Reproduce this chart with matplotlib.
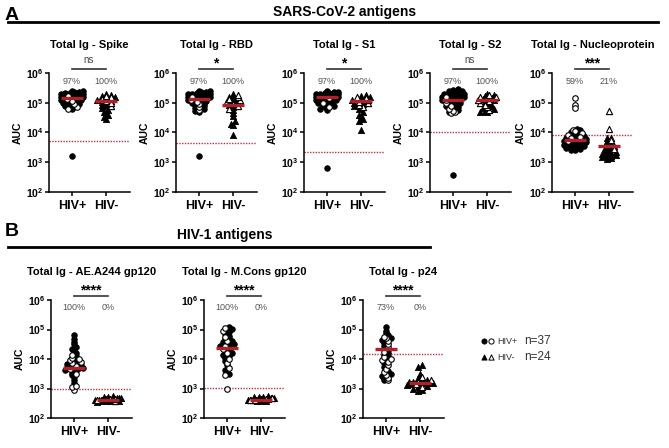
import numpy as np
import matplotlib.pyplot as plt

plt.rcParams['font.family'] = ['Liberation Sans', 'DejaVu Sans']
plt.rcParams['mathtext.fontset'] = 'custom'
plt.rcParams['mathtext.rm'] = 'Liberation Sans'
plt.rcParams['mathtext.bf'] = 'Liberation Sans:bold'

# ---- data (log10 AUC) ----
spike_pos_solid = [3.20, 4.78, 4.84, 4.90, 4.93, 4.97, 5.00, 5.03, 5.06, 5.08, 5.10, 5.12, 5.14, 5.15, 5.16, 5.17,
                   5.18, 5.19, 5.20, 5.22, 5.24, 5.25, 5.27, 5.28, 5.30, 5.32, 5.33, 5.35, 5.36, 5.38, 5.40]
spike_pos_open = [4.80, 4.86, 4.95, 5.05, 5.12, 5.22]
spike_neg_solid = [4.46, 4.52, 4.58, 4.64, 4.70, 4.76, 4.82, 4.88, 4.93, 4.98, 5.02, 5.06, 5.10, 5.14, 5.19, 5.23,
                   5.27, 5.31]
spike_neg_open = [4.88, 4.98, 5.05, 5.12, 5.18, 5.24]

rbd_pos_solid = [3.20, 4.68, 4.72, 4.78, 4.82, 4.88, 4.92, 4.97, 5.00, 5.04, 5.07, 5.10, 5.12, 5.14, 5.15, 5.16,
                 5.18, 5.19, 5.20, 5.22, 5.23, 5.25, 5.26, 5.28, 5.30, 5.31, 5.33, 5.35, 5.36, 5.38, 5.40]
rbd_pos_open = [4.75, 4.85, 4.95, 5.02, 5.10, 5.20]
rbd_neg_solid = [3.92, 4.25, 4.30, 4.38, 4.55, 4.65, 4.75, 4.85, 4.92, 4.98, 5.03, 5.08, 5.13, 5.20, 5.24, 5.30]
rbd_neg_open = [4.80, 4.88, 4.95, 5.00, 5.08, 5.12, 5.18, 5.25]

s1_pos_solid = [2.82, 4.75, 4.80, 4.85, 4.88, 4.92, 4.95, 4.98, 5.00, 5.03, 5.05, 5.08, 5.10, 5.12, 5.14, 5.16,
                5.18, 5.20, 5.21, 5.22, 5.23, 5.24, 5.25, 5.26, 5.27, 5.28, 5.29, 5.30, 5.31, 5.32, 5.33, 5.35,
                5.37, 5.40]
s1_pos_open = [4.85, 5.00, 5.15]
s1_neg_solid = [4.07, 4.40, 4.45, 4.52, 4.60, 4.68, 4.80, 4.90, 4.95, 5.00, 5.05, 5.10, 5.15, 5.18, 5.22, 5.26]
s1_neg_open = [4.85, 4.92, 4.98, 5.02, 5.08, 5.12, 5.16, 5.20]

s2_pos_solid = [2.57, 4.70, 4.75, 4.82, 4.86, 4.90, 4.94, 4.98, 5.02, 5.05, 5.08, 5.10, 5.12, 5.14, 5.16, 5.18,
                5.20, 5.22, 5.24, 5.26, 5.28, 5.30, 5.32, 5.34, 5.36, 5.38, 5.40, 5.43, 5.45]
s2_pos_open = [4.65, 4.68, 4.72, 4.80, 4.90, 5.00, 5.10, 5.20]
s2_neg_solid = [4.68, 4.70, 4.72, 4.78, 4.82, 4.88, 4.95, 5.02, 5.08, 5.12, 5.17, 5.22, 5.27, 5.30]
s2_neg_open = [4.75, 4.85, 4.92, 5.00, 5.05, 5.10, 5.15, 5.18, 5.20, 5.25]

np_pos_solid = [3.40, 3.42, 3.45, 3.48, 3.50, 3.52, 3.54, 3.56, 3.58, 3.60, 3.62, 3.64, 3.66, 3.68, 3.70, 3.72,
                3.74, 3.76, 3.78, 3.80, 3.83, 3.87, 3.92, 3.96, 4.02, 4.08, 4.12]
np_pos_open = [5.15, 4.92, 4.83, 4.10, 4.05, 3.98, 3.90, 3.85, 3.80, 3.70]
np_neg_solid = [3.10, 3.15, 3.18, 3.20, 3.22, 3.25, 3.28, 3.30, 3.32, 3.35, 3.38, 3.42, 3.48, 3.52, 3.55, 3.58,
                3.62, 3.70, 3.82]
np_neg_open = [4.72, 4.12, 3.82, 3.75, 3.45]

a244_pos_solid = [3.20, 3.30, 3.38, 3.45, 3.52, 3.58, 3.62, 3.66, 3.68, 3.70, 3.72, 3.74, 3.78, 3.82, 3.88, 3.98,
                  4.10, 4.20, 4.28, 4.35, 4.42, 4.50, 4.58, 4.68, 4.80]
a244_pos_open = [2.95, 3.05, 3.10, 3.50, 3.65, 3.75, 3.85, 3.90, 3.95, 4.00, 4.05, 4.15]
a244_neg_solid = [2.54, 2.56, 2.57, 2.58, 2.59, 2.60, 2.61, 2.62, 2.62, 2.63, 2.63, 2.64, 2.65, 2.66, 2.67, 2.68,
                  2.69, 2.70, 2.71, 2.73]
a244_neg_open = [2.58, 2.60, 2.64, 2.66]

mcons_pos_solid = [3.50, 3.62, 3.78, 3.92, 4.05, 4.10, 4.15, 4.22, 4.28, 4.32, 4.36, 4.40, 4.43, 4.48, 4.52, 4.56,
                   4.62, 4.68, 4.72, 4.78, 4.85, 4.90, 4.96, 5.02, 5.10]
mcons_pos_open = [3.00, 3.45, 3.70, 3.85, 4.00, 4.20, 4.35, 4.45, 4.60, 4.75, 4.95, 5.05]
mcons_neg_solid = [2.56, 2.58, 2.59, 2.60, 2.61, 2.62, 2.62, 2.63, 2.63, 2.64, 2.64, 2.65, 2.66, 2.67, 2.68, 2.69,
                   2.70, 2.71, 2.72, 2.74]
mcons_neg_open = [2.60, 2.62, 2.65, 2.68]

p24_pos_solid = [3.28, 3.35, 3.42, 3.50, 3.60, 3.72, 3.85, 3.98, 4.10, 4.15, 4.22, 4.30, 4.35, 4.45, 4.55, 4.65,
                 4.72, 4.80, 4.88, 4.95, 5.10]
p24_pos_open = [3.30, 3.35, 3.45, 3.55, 3.65, 3.80, 3.90, 3.95, 4.00, 4.08, 4.25, 4.40, 4.50, 4.62, 4.70, 4.75]
p24_neg_solid = [2.90, 2.95, 3.00, 3.05, 3.10, 3.12, 3.15, 3.17, 3.18, 3.19, 3.20, 3.21, 3.22, 3.25, 3.30, 3.35,
                 3.50, 3.72, 3.80]
p24_neg_open = [3.40, 3.30, 3.22, 3.15, 3.05]

titles = ['Total Ig - Spike', 'Total Ig - RBD', 'Total Ig - S1', 'Total Ig - S2', 'Total Ig - Nucleoprotein',
          'Total Ig - AE.A244 gp120', 'Total Ig - M.Cons gp120', 'Total Ig - p24']
medians_pos = [5.15, 5.13, 5.20, 5.10, 3.75, 3.70, 4.37, 4.33]
medians_neg = [5.05, 4.93, 5.05, 5.08, 3.55, 2.62, 2.62, 3.20]
cutoffs = [3.70, 3.65, 3.33, 4.00, 3.90, 3.00, 3.02, 4.18]
pct_pos = ['97%', '97%', '97%', '97%', '59%', '100%', '100%', '73%']
pct_neg = ['100%', '100%', '100%', '100%', '21%', '0%', '0%', '0%']
signif = ['ns', '*', '*', 'ns', '***', '****', '****', '****']
groups = ['HIV+', 'HIV-']

data = [
    (spike_pos_solid, spike_pos_open, spike_neg_solid, spike_neg_open),
    (rbd_pos_solid, rbd_pos_open, rbd_neg_solid, rbd_neg_open),
    (s1_pos_solid, s1_pos_open, s1_neg_solid, s1_neg_open),
    (s2_pos_solid, s2_pos_open, s2_neg_solid, s2_neg_open),
    (np_pos_solid, np_pos_open, np_neg_solid, np_neg_open),
    (a244_pos_solid, a244_pos_open, a244_neg_solid, a244_neg_open),
    (mcons_pos_solid, mcons_pos_open, mcons_neg_solid, mcons_neg_open),
    (p24_pos_solid, p24_pos_open, p24_neg_solid, p24_neg_open),
]

# ---- layout in pixels ----
W, H = 669, 448
fig = plt.figure(figsize=(W / 100, H / 100), dpi=100)
ov = fig.add_axes([0, 0, 1, 1])
ov.set_xlim(0, W)
ov.set_ylim(H, 0)
ov.axis('off')

tick0 = [72, 199, 327, 453, 575, 74, 227, 386]
tops = [73] * 5 + [300] * 3
bots = [192] * 5 + [418] * 3
step = 34
red = '#b0202a'


def spread(ypx, row_h=3.0, gap=4.5, maxw=11.0):
    # rows of points, spaced side by side, squeezed to keep within maxw
    xs = np.zeros(len(ypx))
    rows = np.round(ypx / row_h).astype(int)
    for r in np.unique(rows):
        idx = np.where(rows == r)[0]
        n = len(idx)
        if n == 1:
            continue
        sp = min(gap, 2 * maxw / (n - 1))
        pos = (np.arange(n) - (n - 1) / 2) * sp
        order = np.argsort(pos)  # interleave so neighbours alternate
        idx = idx[np.argsort(ypx[idx])]
        xs[idx] = pos[order]
    return xs


for k in range(8):
    t0 = tick0[k]
    left, right = t0 - 23, t0 + step + 24
    top, bot = tops[k], bots[k]
    ax = fig.add_axes([left / W, 1 - bot / H, (right - left) / W, (bot - top) / H])
    ax.set_facecolor('none')
    ax.set_yscale('log')
    ax.set_ylim(1e2, 1e6)
    ax.set_xlim(-23 / step, 1 + 24 / step)
    ppd = (bot - top) / 4.0

    for g in range(2):
        solid = np.array(data[k][2 * g], dtype=float)
        hollow = np.array(data[k][2 * g + 1], dtype=float)
        allv = np.concatenate([solid, hollow])
        maxw = 11.0 if g == 0 else 13.0
        xs = spread(allv * ppd, maxw=maxw) / step + g
        ns = len(solid)
        mk = 'o' if g == 0 else '^'
        sz = 16 if g == 0 else 20
        ax.scatter(xs[:ns], 10 ** solid, marker=mk, s=sz, c='black', edgecolors='black', linewidths=0.6,
                   zorder=3, clip_on=False)
        ax.scatter(xs[ns:], 10 ** hollow, marker=mk, s=sz, c='white', edgecolors='black', linewidths=0.8,
                   zorder=3, clip_on=False)

    meds = [medians_pos[k], medians_neg[k]]
    for g in range(2):
        ax.plot([g - 0.32, g + 0.32], [10 ** meds[g]] * 2, color=red, lw=2.4, zorder=4, solid_capstyle='butt')
    ax.axhline(10 ** cutoffs[k], color='#c0303a', ls=(0, (1, 1)), lw=1.0, zorder=2)

    for s in ['top', 'right']:
        ax.spines[s].set_visible(False)
    for s in ['left', 'bottom']:
        ax.spines[s].set_linewidth(1.1)
    ax.set_yticks([1e2, 1e3, 1e4, 1e5, 1e6])
    ax.set_yticklabels([r'$\mathbf{10^{%d}}$' % e for e in range(2, 7)])
    ax.minorticks_off()
    ax.set_xticks([0, 1])
    ax.set_xticklabels(groups, fontweight='bold', fontsize=9)
    ax.tick_params(axis='y', labelsize=7.5, length=3, width=1.1, pad=1)
    ax.tick_params(axis='x', length=3, width=1.1, pad=3)
    ax.set_ylabel('AUC', fontweight='bold', fontsize=7.5, labelpad=2)

    cx = (left + right) / 2
    ov.text(cx, top - 28, titles[k], ha='center', va='center', fontsize=8, fontweight='bold')
    ov.plot([t0, t0 + step], [top - 4, top - 4], color='#333333', lw=1.2)
    if signif[k] == 'ns':
        ov.text(t0 + step / 2, top - 13, 'ns', ha='center', va='center', fontsize=7, color='#444444')
    else:
        ov.text(t0 + step / 2, top - 10, signif[k], ha='center', va='center', fontsize=10, fontweight='bold')
    ov.text(t0, top + 8, pct_pos[k], ha='center', va='center', fontsize=6.5, color='#555555')
    ov.text(t0 + step, top + 8, pct_neg[k], ha='center', va='center', fontsize=6.5, color='#555555')

# section headers
ov.text(12, 15, 'A', ha='center', va='center', fontsize=14, fontweight='bold')
ov.text(345, 12, 'SARS-CoV-2 antigens', ha='center', va='center', fontsize=10, fontweight='bold')
ov.plot([8, 658], [22, 22], color='black', lw=2)
ov.text(12, 232, 'B', ha='center', va='center', fontsize=14, fontweight='bold')
ov.text(225, 235, 'HIV-1 antigens', ha='center', va='center', fontsize=10, fontweight='bold')
ov.plot([8, 430], [247, 247], color='black', lw=2)

# legend
ov.scatter([484], [341], marker='o', s=14, c='black', edgecolors='black', linewidths=0.6)
ov.scatter([491], [341], marker='o', s=14, c='white', edgecolors='black', linewidths=0.7)
ov.scatter([484], [357], marker='^', s=14, c='black', edgecolors='black', linewidths=0.6)
ov.scatter([491], [357], marker='^', s=14, c='white', edgecolors='black', linewidths=0.7)
ov.text(497, 341, 'HIV+', ha='left', va='center', fontsize=6.5, color='#333333')
ov.text(497, 357, 'HIV-', ha='left', va='center', fontsize=6.5, color='#333333')
ov.text(524, 341, 'n=37', ha='left', va='center', fontsize=8.5, color='#333333')
ov.text(524, 357, 'n=24', ha='left', va='center', fontsize=8.5, color='#333333')

fig.savefig('out.png', dpi=100)
